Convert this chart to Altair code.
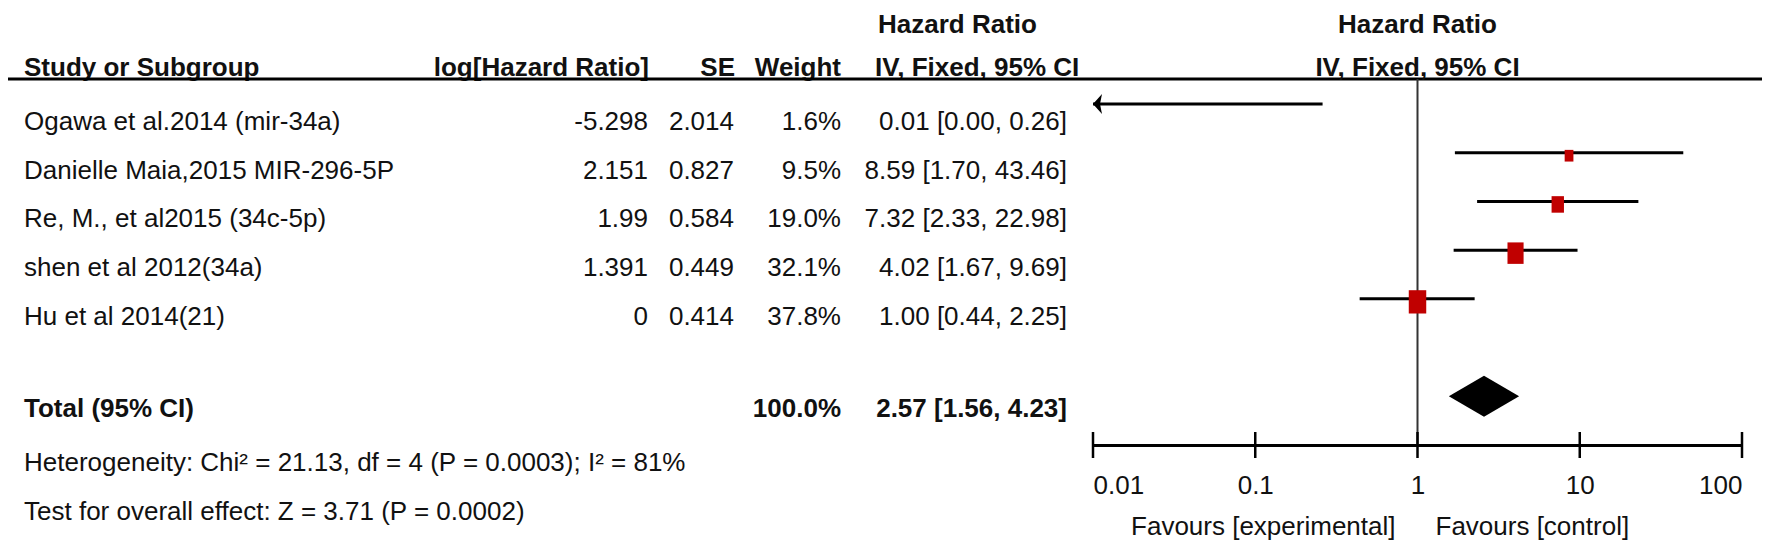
import altair as alt
import pandas as pd

# ---------------- data ----------------
studies = [
    "Ogawa et al.2014 (mir-34a)",
    "Danielle Maia,2015 MIR-296-5P",
    "Re, M., et al2015 (34c-5p)",
    "shen et al 2012(34a)",
    "Hu et al 2014(21)",
]
log_hr = [-5.298, 2.151, 1.99, 1.391, 0]
se = [2.014, 0.827, 0.584, 0.449, 0.414]
weight = [1.6, 9.5, 19.0, 32.1, 37.8]
hr = [0.01, 8.59, 7.32, 4.02, 1.00]
ci_low = [0.00, 1.70, 2.33, 1.67, 0.44]
ci_high = [0.26, 43.46, 22.98, 9.69, 2.25]

total_label = "Total (95% CI)"
total_weight = 100.0
total_hr = 2.57
total_low = 1.56
total_high = 4.23
heterogeneity = "Heterogeneity: Chi\u00b2 = 21.13, df = 4 (P = 0.0003); I\u00b2 = 81%"
overall = "Test for overall effect: Z = 3.71 (P = 0.0002)"

col_headers = ["Study or Subgroup", "log[Hazard Ratio]", "SE", "Weight", "IV, Fixed, 95% CI"]
top_header = "Hazard Ratio"
tick_values = [0.01, 0.1, 1, 10, 100]
tick_labels = ["0.01", "0.1", "1", "10", "100"]
favours_left = "Favours [experimental]"
favours_right = "Favours [control]"

# ---------------- layout / style ----------------
FONT = "Liberation Sans, Arial, sans-serif"
FS = 26
TXT = "#111111"
RED = "#C00000"
W, H = 1754, 437
X_MIN, X_MAX = tick_values[0], tick_values[-1]

AX = alt.Axis(
    values=tick_values,
    labelExpr="[" + ",".join(f"'{l}'" for l in tick_labels) + "][indexof(["
    + ",".join(str(v) for v in tick_values) + "], datum.value)]",
    ticks=False, tickSize=0, grid=False, title=None,
    domain=True, domainColor="black", domainWidth=3,
    labelFont=FONT, labelFontSize=FS, labelColor=TXT,
    labelBaseline="alphabetic", labelPadding=48, labelFlush=True,
)


def X(field):
    return alt.X(f"{field}:Q",
                 scale=alt.Scale(type="log", domain=[X_MIN, X_MAX], range=[1085, 1734], nice=False),
                 axis=AX)


def Y(field):
    return alt.Y(f"{field}:Q",
                 scale=alt.Scale(domain=[1, 8], range=[96, 437], zero=False, nice=False),
                 axis=None)


def text_layer(texts, rows, x_px, align, bold=False, dy=26):
    df = pd.DataFrame({"t": texts, "row": rows})
    return alt.Chart(df).mark_text(
        align=align, baseline="alphabetic", dy=dy, font=FONT, fontSize=FS,
        fontWeight="bold" if bold else "normal", color=TXT,
    ).encode(x=alt.value(x_px), y=Y("row"), text="t:N")


study_rows = [i + 1 for i in range(len(studies))]
TOTAL_ROW = 7
AXIS_ROW = 8
HEADER_LINE_ROW = 0.487
LEFT = 16
TOP_DY = 26

layers = []
# headers
layers.append(text_layer([top_header], [-1], 870, "left", True, TOP_DY))
layers.append(text_layer([col_headers[0]], [0], LEFT, "left", True, 21))
layers.append(text_layer([col_headers[1]], [0], 641, "right", True, 21))
layers.append(text_layer([col_headers[2]], [0], 727, "right", True, 21))
layers.append(text_layer([col_headers[3]], [0], 833, "right", True, 21))
layers.append(text_layer([col_headers[4]], [0], 867, "left", True, 21))

# study rows
layers.append(text_layer(studies, study_rows, LEFT, "left"))
layers.append(text_layer([f"{v:g}" for v in log_hr], study_rows, 640, "right"))
layers.append(text_layer([f"{v:.3f}" for v in se], study_rows, 726, "right"))
layers.append(text_layer([f"{v:.1f}%" for v in weight], study_rows, 833, "right"))
layers.append(text_layer([f"{h:.2f} [{l:.2f}, {u:.2f}]" for h, l, u in zip(hr, ci_low, ci_high)],
                         study_rows, 1059, "right"))

# total + footnotes
layers.append(text_layer([total_label], [TOTAL_ROW], LEFT, "left", True, 21))
layers.append(text_layer([f"{total_weight:.1f}%"], [TOTAL_ROW], 833, "right", True, 21))
layers.append(text_layer([f"{total_hr:.2f} [{total_low:.2f}, {total_high:.2f}]"], [TOTAL_ROW], 1059, "right", True, 21))
layers.append(text_layer([heterogeneity], [AXIS_ROW], LEFT, "left"))
layers.append(text_layer([overall], [AXIS_ROW + 1], LEFT, "left"))

# header underline
layers.append(alt.Chart(pd.DataFrame({"row": [HEADER_LINE_ROW]})).mark_rule(
    color="black", strokeWidth=3).encode(x=alt.value(0), x2=alt.value(W), y=Y("row")))

# right-panel headers (centred on HR = 1)
layers.append(alt.Chart(pd.DataFrame({"hr": [1.0], "row": [-1], "t": [top_header]})).mark_text(
    align="center", baseline="alphabetic", dy=TOP_DY, font=FONT, fontSize=FS, fontWeight="bold", color=TXT,
).encode(x=X("hr"), y=Y("row"), text="t:N"))
layers.append(alt.Chart(pd.DataFrame({"hr": [1.0], "row": [0], "t": [col_headers[4]]})).mark_text(
    align="center", baseline="alphabetic", dy=21, font=FONT, fontSize=FS, fontWeight="bold", color=TXT,
).encode(x=X("hr"), y=Y("row"), text="t:N"))

# line of no effect
layers.append(alt.Chart(pd.DataFrame({"hr": [1.0], "y0": [HEADER_LINE_ROW], "y1": [float(AXIS_ROW)]}))
              .mark_rule(color="#333333", strokeWidth=2)
              .encode(x=X("hr"), y=Y("y0"), y2="y1"))

# CI lines
ci = pd.DataFrame({
    "row": study_rows,
    "lo": [max(l, X_MIN) for l in ci_low],
    "hi": [min(u, X_MAX) for u in ci_high],
    "hr": hr,
    "w": weight,
    "clipped": [l < X_MIN for l in ci_low],
})
layers.append(alt.Chart(ci).mark_rule(color="black", strokeWidth=3).encode(x=X("lo"), x2="hi", y=Y("row")))

# arrow heads for clipped intervals
ARROW = "M0,0L0.9,-1L0.7,0L0.9,1Z"
layers.append(alt.Chart(ci[ci.clipped]).mark_point(
    shape=ARROW, filled=True, color="black", opacity=1, size=400, strokeWidth=0
).encode(x=X("lo"), y=Y("row")))

# weight boxes
BOX = "M-0.75,-1L0.75,-1L0.75,1L-0.75,1Z"
layers.append(alt.Chart(ci[~ci.clipped]).mark_point(
    shape=BOX, filled=True, color=RED, opacity=1, strokeWidth=0, yOffset=3
).encode(x=X("hr"), y=Y("row"),
         size=alt.Size("w:Q", scale=alt.Scale(domain=[0, max(weight)], range=[0, 543]), legend=None)))

# pooled diamond
DH = 0.42
dia = pd.DataFrame({
    "hr": [total_low, total_hr, total_high],
    "ya": [TOTAL_ROW, TOTAL_ROW - DH, TOTAL_ROW],
    "yb": [TOTAL_ROW, TOTAL_ROW + DH, TOTAL_ROW],
})
layers.append(alt.Chart(dia).mark_area(orient="vertical", color="black", opacity=1)
              .encode(x=X("hr"), y=Y("ya"), y2="yb"))

# axis ticks (both sides of the axis line)
layers.append(alt.Chart(pd.DataFrame({"v": tick_values, "row": [AXIS_ROW] * len(tick_values)}))
              .mark_tick(orient="vertical", size=26, thickness=2.5, color="black", opacity=1)
              .encode(x=X("v"), y=Y("row")))

# favours labels
fav = pd.DataFrame({"hr": [1.0], "row": [AXIS_ROW]})
layers.append(alt.Chart(fav).mark_text(align="right", baseline="alphabetic", dx=-22, dy=90,
                                       font=FONT, fontSize=FS, color=TXT, text=favours_left)
              .encode(x=X("hr"), y=Y("row")))
layers.append(alt.Chart(fav).mark_text(align="left", baseline="alphabetic", dx=18, dy=90,
                                       font=FONT, fontSize=FS, color=TXT, text=favours_right)
              .encode(x=X("hr"), y=Y("row")))

chart = alt.layer(*layers).properties(
    width=W, height=H,
    autosize=alt.AutoSizeParams(type="none"),
    padding={"left": 0, "right": 0, "top": 0, "bottom": 96},
    background="white",
).configure_view(strokeWidth=0)

chart.save("out.html", embed_options={"renderer": "svg", "actions": False})
